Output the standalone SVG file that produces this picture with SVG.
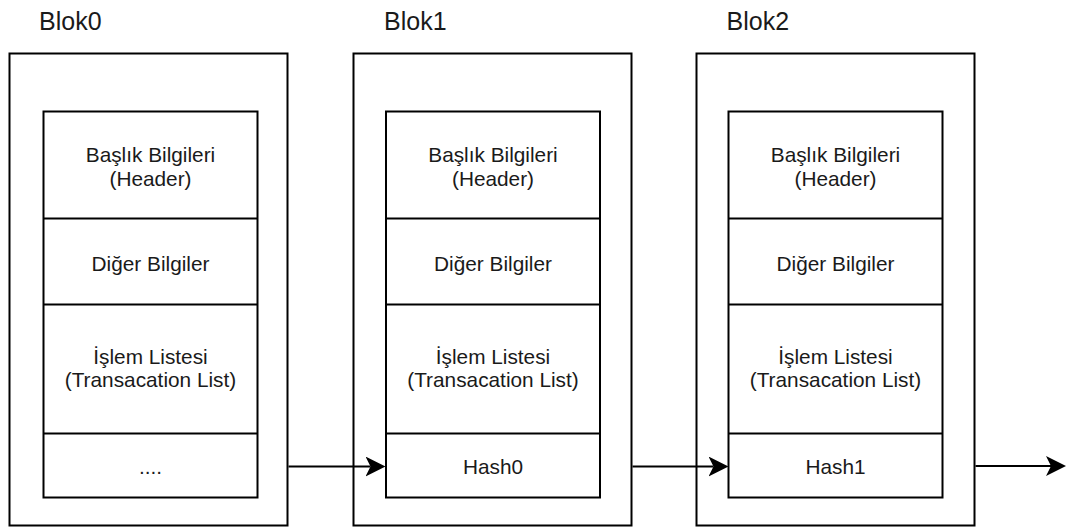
<svg xmlns="http://www.w3.org/2000/svg" width="1066" height="527" viewBox="0 0 1066 527">
  <style>
    .box { fill: #ffffff; stroke: #000000; stroke-width: 2; }
    .div { stroke: #000000; stroke-width: 2; fill: none; }
    .title { font-family: "Liberation Sans", Arial, sans-serif; font-size: 25px; fill: #1a1a1a; }
    .cell { font-family: "Liberation Sans", Arial, sans-serif; font-size: 20.8px; fill: #1a1a1a; text-anchor: middle; }
    .edge { stroke: #000000; stroke-width: 2; fill: none; }
  </style>
  <defs>
    <marker id="arrow" markerUnits="userSpaceOnUse" viewBox="0 0 20 20" markerWidth="20" markerHeight="20" refX="5" refY="10" orient="auto">
      <path d="M0,0 L20,10 L0,20 L5,10 Z" fill="#000000"/>
    </marker>
  </defs>

  <!-- Block 0 -->
  <g id="blok0">
    <text class="title" x="39" y="30">Blok0</text>
    <rect class="box" x="9.5" y="53.5" width="278" height="472"/>
    <rect class="box" x="43.5" y="111.5" width="214" height="386"/>
    <path class="div" d="M43.5,218.5 H257.5 M43.5,304.5 H257.5 M43.5,433.5 H257.5"/>
    <text class="cell" x="150.5" y="162">Başlık Bilgileri</text>
    <text class="cell" x="150.5" y="186">(Header)</text>
    <text class="cell" x="150.5" y="271">Diğer Bilgiler</text>
    <text class="cell" x="150.5" y="363.5">İşlem Listesi</text>
    <text class="cell" x="150.5" y="387">(Transacation List)</text>
    <text class="cell" x="150.5" y="474">....</text>
  </g>

  <!-- Block 1 -->
  <g id="blok1">
    <text class="title" x="384" y="30">Blok1</text>
    <rect class="box" x="353.5" y="53.5" width="278" height="472"/>
    <rect class="box" x="386" y="111.5" width="214" height="386"/>
    <path class="div" d="M386,218.5 H600 M386,304.5 H600 M386,433.5 H600"/>
    <text class="cell" x="493" y="162">Başlık Bilgileri</text>
    <text class="cell" x="493" y="186">(Header)</text>
    <text class="cell" x="493" y="271">Diğer Bilgiler</text>
    <text class="cell" x="493" y="363.5">İşlem Listesi</text>
    <text class="cell" x="493" y="387">(Transacation List)</text>
    <text class="cell" x="493" y="474">Hash0</text>
  </g>

  <!-- Block 2 -->
  <g id="blok2">
    <text class="title" x="726.5" y="30">Blok2</text>
    <rect class="box" x="696.5" y="53.5" width="278" height="472"/>
    <rect class="box" x="728.5" y="111.5" width="214" height="386"/>
    <path class="div" d="M728.5,218.5 H942.5 M728.5,304.5 H942.5 M728.5,433.5 H942.5"/>
    <text class="cell" x="835.5" y="162">Başlık Bilgileri</text>
    <text class="cell" x="835.5" y="186">(Header)</text>
    <text class="cell" x="835.5" y="271">Diğer Bilgiler</text>
    <text class="cell" x="835.5" y="363.5">İşlem Listesi</text>
    <text class="cell" x="835.5" y="387">(Transacation List)</text>
    <text class="cell" x="835.5" y="474">Hash1</text>
  </g>

  <!-- Hash links between blocks -->
  <g id="connectors">
    <path class="edge" d="M288.5,466.5 H370.5" marker-end="url(#arrow)"/>
    <path class="edge" d="M632.5,466.5 H713.5" marker-end="url(#arrow)"/>
    <path class="edge" d="M975.5,466 H1051" marker-end="url(#arrow)"/>
  </g>
</svg>
